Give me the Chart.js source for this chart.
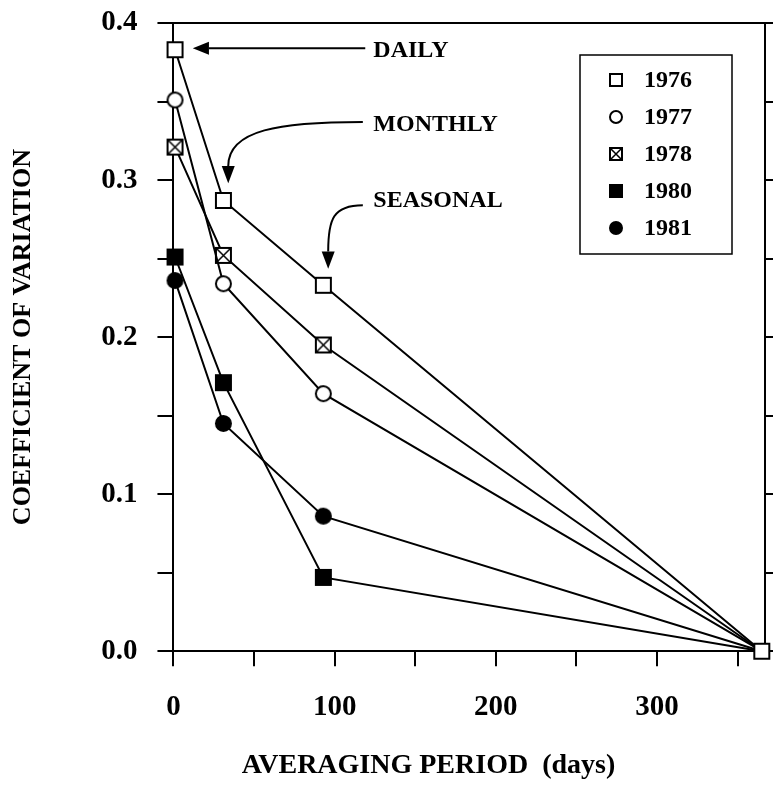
<!DOCTYPE html>
<html>
<head>
<meta charset="utf-8">
<title>Coefficient of variation vs averaging period</title>
<script src="https://cdn.jsdelivr.net/npm/chart.js@4.4.1/dist/chart.umd.min.js"></script>
<style>
  body { margin: 0; background: #fff; }
  canvas { display: block; }
</style>
</head>
<body>
<canvas id="myChart" width="775" height="793"></canvas>
<script>
// averaging period in days: daily, monthly, seasonal, annual
var periods = [1, 31, 93, 365];
var years = ['1976', '1977', '1978', '1980', '1981'];
var cv1976 = [0.383, 0.287, 0.233, 0];
var cv1977 = [0.351, 0.234, 0.164, 0];
var cv1978 = [0.321, 0.252, 0.195, 0];
var cv1980 = [0.251, 0.171, 0.047, 0];
var cv1981 = [0.236, 0.145, 0.086, 0];
var markers = ['square', 'circle', 'xsquare', 'fsquare', 'fcircle'];

var xTicks = [0, 50, 100, 150, 200, 250, 300, 350];
var xTickLabels = ['0', '', '100', '', '200', '', '300', ''];
var yTicks = [0, 0.05, 0.1, 0.15, 0.2, 0.25, 0.3, 0.35, 0.4];
var yTickLabels = ['0.0', '', '0.1', '', '0.2', '', '0.3', '', '0.4'];

// text labels with arrows, in data units: [x, y]
var notes = [
  {text: 'DAILY', at: [124, 0.382], curve: [[119, 0.384], [119, 0.384], [22, 0.384], [22, 0.384]], tip: [12, 0.384]},
  {text: 'MONTHLY', at: [124, 0.335], curve: [[117.5, 0.337], [66, 0.337], [34, 0.332], [34, 0.309]], tip: [34, 0.298]},
  {text: 'SEASONAL', at: [124, 0.287], curve: [[117.5, 0.284], [99, 0.284], [96, 0.275], [96, 0.2545]], tip: [96, 0.2435]}
];

var serif = "'Liberation Serif', 'Times New Roman', serif";

function makeMarker(kind, size) {
  var c = document.createElement('canvas');
  c.width = size + 4;
  c.height = size + 4;
  var g = c.getContext('2d');
  var m = c.width / 2, h = size / 2;
  g.lineWidth = 2;
  g.strokeStyle = '#000';
  g.fillStyle = (kind == 'fsquare' || kind == 'fcircle') ? '#000' : '#fff';
  g.beginPath();
  if (kind == 'circle' || kind == 'fcircle') {
    g.arc(m, m, h, 0, Math.PI * 2);
  } else {
    g.rect(m - h, m - h, size, size);
  }
  g.fill();
  g.stroke();
  if (kind == 'xsquare') {
    g.beginPath();
    g.moveTo(m - h, m - h); g.lineTo(m + h, m + h);
    g.moveTo(m + h, m - h); g.lineTo(m - h, m + h);
    g.lineWidth = 1.5;
    g.stroke();
  }
  return c;
}

var allSeries = [cv1976, cv1977, cv1978, cv1980, cv1981];
var datasets = [];
for (var i = 0; i < years.length; i++) {
  var pts = [];
  for (var j = 0; j < periods.length; j++) {
    pts.push({x: periods[j], y: allSeries[i][j]});
  }
  // the shared annual point is only marked once (1976 square)
  var radius = i == 0 ? 8 : [8, 8, 8, 0];
  datasets.push({
    label: years[i],
    data: pts,
    borderColor: '#000',
    borderWidth: 2,
    tension: 0,
    clip: false,
    pointStyle: makeMarker(markers[i], 15),
    pointRadius: radius
  });
}

var legendMarks = markers.map(function(k) { return makeMarker(k, 12); });

var extras = {
  id: 'extras',
  afterDraw: function(chart) {
    var ctx = chart.ctx, area = chart.chartArea;
    var xs = chart.scales.x, ys = chart.scales.y;
    function px(p) { return [xs.getPixelForValue(p[0]), ys.getPixelForValue(p[1])]; }
    ctx.save();
    ctx.strokeStyle = '#000';
    ctx.fillStyle = '#000';
    ctx.lineWidth = 2;

    // arrows and their labels
    notes.forEach(function(n) {
      var c = n.curve.map(px), t = px(n.tip);
      ctx.beginPath();
      ctx.moveTo(c[0][0], c[0][1]);
      ctx.bezierCurveTo(c[1][0], c[1][1], c[2][0], c[2][1], c[3][0], c[3][1]);
      ctx.stroke();
      var dx = t[0] - c[3][0], dy = t[1] - c[3][1];
      var len = Math.sqrt(dx * dx + dy * dy);
      var nx = -dy / len * 6.5, ny = dx / len * 6.5;
      ctx.beginPath();
      ctx.moveTo(t[0], t[1]);
      ctx.lineTo(c[3][0] + nx, c[3][1] + ny);
      ctx.lineTo(c[3][0] - nx, c[3][1] - ny);
      ctx.closePath();
      ctx.fill();
      var a = px(n.at);
      ctx.font = 'bold 24px ' + serif;
      ctx.textAlign = 'left';
      ctx.textBaseline = 'middle';
      ctx.fillText(n.text, a[0], a[1]);
    });

    // legend box
    var bx = area.right - 185, by = area.top + 32;
    ctx.lineWidth = 1.5;
    ctx.strokeRect(bx, by, 152, 199);
    ctx.font = 'bold 24px ' + serif;
    ctx.textBaseline = 'middle';
    for (var i = 0; i < years.length; i++) {
      var ry = by + 25 + i * 37;
      var img = legendMarks[i];
      ctx.drawImage(img, bx + 36 - img.width / 2, ry - img.height / 2);
      ctx.fillText(years[i], bx + 64, ry + 1);
    }

    // x axis title
    ctx.font = 'bold 28px ' + serif;
    ctx.textAlign = 'center';
    ctx.fillText('AVERAGING PERIOD  (days)', area.left + 255, 766);
    ctx.restore();
  }
};

var ctx = document.getElementById('myChart').getContext('2d');
var myChart = new Chart(ctx, {
  type: 'line',
  data: { datasets: datasets },
  plugins: [extras],
  options: {
    responsive: false,
    animation: false,
    layout: { padding: { left: 4, top: 23, right: 0, bottom: 44 } },
    plugins: { legend: { display: false }, tooltip: { enabled: false } },
    scales: {
      x: {
        type: 'linear',
        position: 'bottom',
        min: 0,
        max: 367,
        afterBuildTicks: function(scale) {
          scale.ticks = xTicks.map(function(v) { return {value: v}; });
        },
        ticks: {
          padding: 24,
          color: '#000',
          maxRotation: 0,
          autoSkip: false,
          font: { family: serif, size: 29, weight: 'bold' },
          callback: function(v, i) { return xTickLabels[i]; }
        },
        grid: { drawOnChartArea: false, tickLength: 15, color: '#000', lineWidth: 2 },
        border: { display: true, color: '#000', width: 2 }
      },
      xTop: {
        type: 'linear',
        position: 'top',
        min: 0,
        max: 367,
        ticks: { display: false },
        grid: { display: false, drawTicks: false },
        border: { display: true, color: '#000', width: 2 }
      },
      y: {
        type: 'linear',
        position: 'left',
        min: 0,
        max: 0.4,
        afterBuildTicks: function(scale) {
          scale.ticks = yTicks.map(function(v) { return {value: v}; });
        },
        ticks: {
          padding: 20,
          color: '#000',
          autoSkip: false,
          font: { family: serif, size: 29, weight: 'bold', lineHeight: 0.2 },
          callback: function(v, i) { return yTickLabels[i]; }
        },
        title: {
          display: true,
          text: 'COEFFICIENT OF VARIATION',
          color: '#000',
          font: { family: serif, size: 26, weight: 'bold' },
          padding: { top: 4, bottom: 42 }
        },
        grid: { drawOnChartArea: false, tickLength: 16, color: '#000', lineWidth: 2 },
        border: { display: true, color: '#000', width: 2 }
      },
      yRight: {
        type: 'linear',
        position: 'right',
        min: 0,
        max: 0.4,
        afterBuildTicks: function(scale) {
          scale.ticks = yTicks.map(function(v) { return {value: v}; });
        },
        ticks: { display: false },
        grid: { drawOnChartArea: false, tickLength: 8, color: '#000', lineWidth: 2 },
        border: { display: true, color: '#000', width: 2 }
      }
    }
  }
});
</script>
</body>
</html>
